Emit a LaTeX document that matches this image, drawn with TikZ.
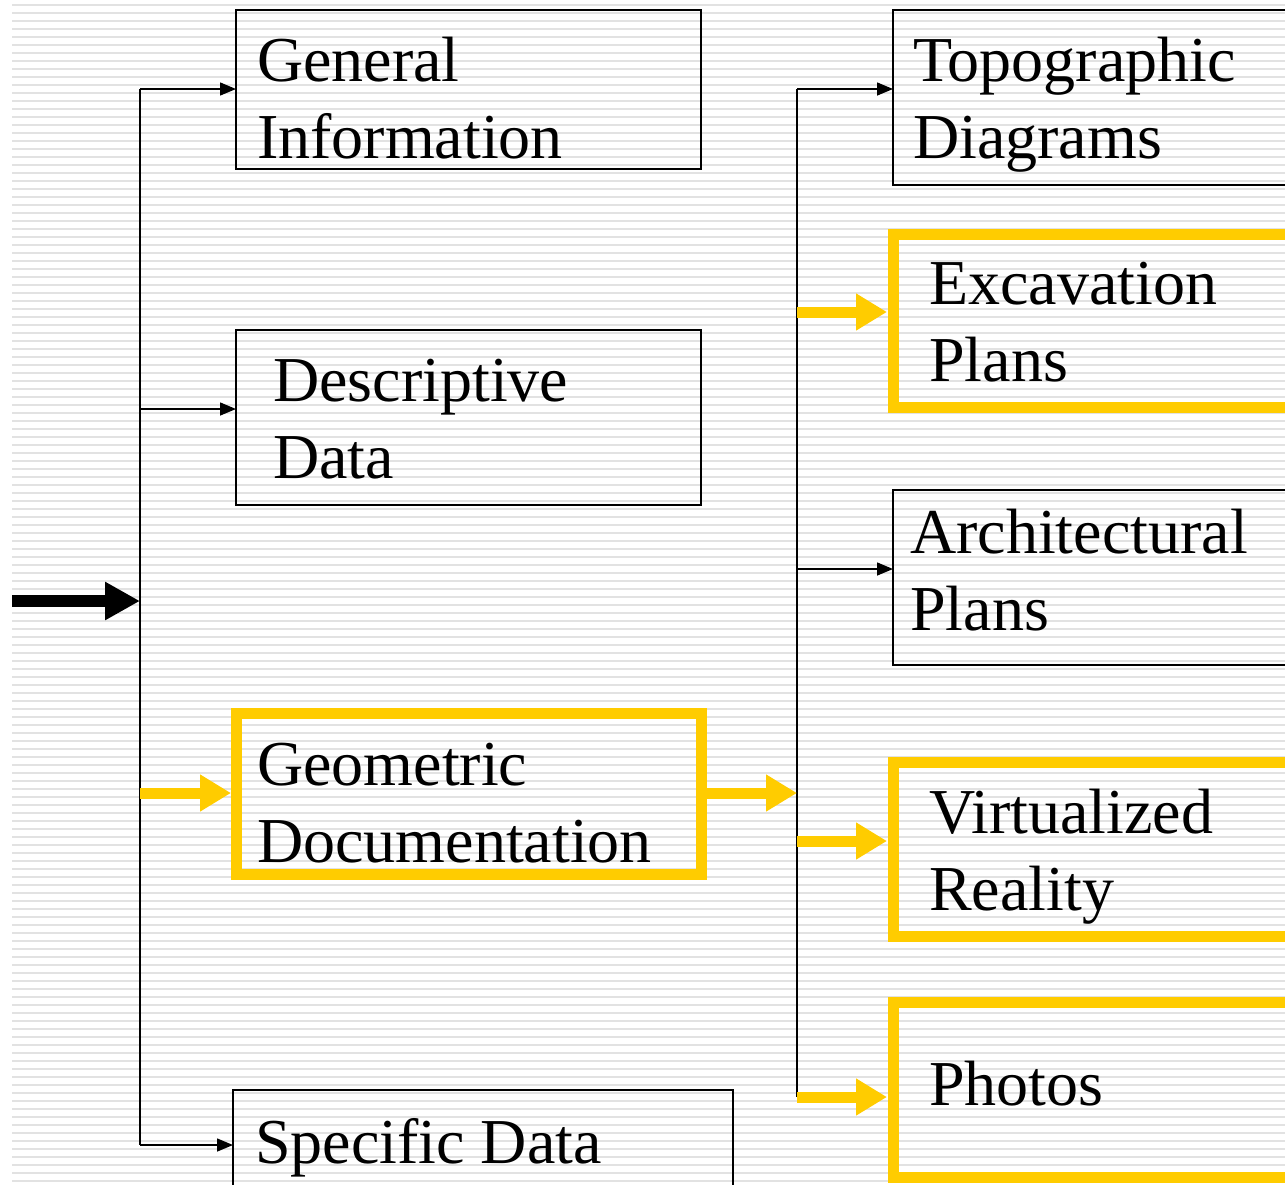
\documentclass[tikz,border=0pt]{standalone}
\usepackage{fontspec}
\setmainfont{Liberation Serif}
\usetikzlibrary{arrows.meta}
\definecolor{gold}{HTML}{FFCC00}
\definecolor{stripe}{HTML}{E2E2E2}
\begin{document}
\begin{tikzpicture}[x=1pt,y=-1pt,
  plainbox/.style={draw=black,line width=1.5pt,inner sep=0pt,outer sep=0pt,anchor=north west},
  goldbox/.style={draw=gold,line width=11pt,inner sep=0pt,outer sep=0pt,anchor=north west},
  txt/.style={inner sep=0pt,anchor=base west,align=left,font=\fontsize{64}{77}\selectfont},
  thin/.style={line width=1.5pt},
  thinarrow/.style={line width=1.5pt,-{Triangle[length=16pt,width=13pt]}},
  goldarrow/.style={draw=gold,line width=11pt,-{Triangle[length=31pt,width=35pt]}},
  bigarrow/.style={line width=12pt,-{Triangle[length=35pt,width=36pt]}}]
\useasboundingbox (0,0) rectangle (1285,1184);
\clip (0,0) rectangle (1285,1184);
\fill[white] (0,0) rectangle (1285,1184);
\foreach \i in {0,...,147}
  \draw[stripe,line width=2.5pt] (12,5+8*\i) -- (1285,5+8*\i);

% boxes
\node[plainbox,minimum width=465pt,minimum height=159pt] (gi) at (236,10) {};
\node[plainbox,minimum width=465pt,minimum height=175pt] (dd) at (236,330) {};
\node[goldbox,minimum width=465pt,minimum height=161pt] (gd) at (236.5,713.5) {};
\node[plainbox,minimum width=500pt,minimum height=200pt] (sd) at (233,1090) {};
\node[plainbox,minimum width=450pt,minimum height=175pt] (td) at (893,10) {};
\node[goldbox,minimum width=450pt,minimum height=173pt] (ep) at (893,234.5) {};
\node[plainbox,minimum width=450pt,minimum height=175pt] (ap) at (893,490) {};
\node[goldbox,minimum width=450pt,minimum height=174pt] (vr) at (893,762.5) {};
\node[goldbox,minimum width=450pt,minimum height=175pt] (ph) at (893,1002.5) {};

% texts
\node[txt] (giT) at (257,158) {General\\Information};
\node[txt] (ddT) at (273,478) {Descriptive\\Data};
\node[txt] (gdT) at (257,862) {Geometric\\Documentation};
\node[txt] (sdT) at (255,1163) {Specific Data};
\node[txt] (tdT) at (913,158) {Topographic\\Diagrams};
\node[txt] (epT) at (929,381) {Excavation\\Plans};
\node[txt] (apT) at (910,630) {Architectural\\Plans};
\node[txt] (vrT) at (929,910) {Virtualized\\Reality};
\node[txt] (phT) at (929,1105) {Photos};

% left bus
\coordinate (lt) at (140,89);
\coordinate (lb) at (140,1145);
\coordinate (lin) at (140,601);
\coordinate (start) at (12,601);
\coordinate (ld) at (140,409);
\coordinate (lg) at (140,793);
\draw[thin] (lt) -- (lb);
\draw[bigarrow] (start) -- (lin);
\draw[thinarrow] (lt) -- (lt -| gi.west);
\draw[thinarrow] (ld) -- (ld -| dd.west);
\draw[thinarrow] (lb) -- (lb -| sd.west);
\draw[goldarrow] (lg) -- (231,793);

% right bus
\coordinate (rt) at (797,89);
\coordinate (rb) at (797,1097);
\coordinate (rin) at (797,793);
\coordinate (re) at (797,312);
\coordinate (ra) at (797,569);
\coordinate (rv) at (797,841);
\draw[thin] (rt) -- (rb);
\draw[goldarrow] (706,793) -- (rin);
\draw[thinarrow] (rt) -- (rt -| td.west);
\draw[thinarrow] (ra) -- (ra -| ap.west);
\draw[goldarrow] (re) -- (887,312);
\draw[goldarrow] (rv) -- (887,841);
\draw[goldarrow] (rb) -- (887,1097);
\end{tikzpicture}
\end{document}
